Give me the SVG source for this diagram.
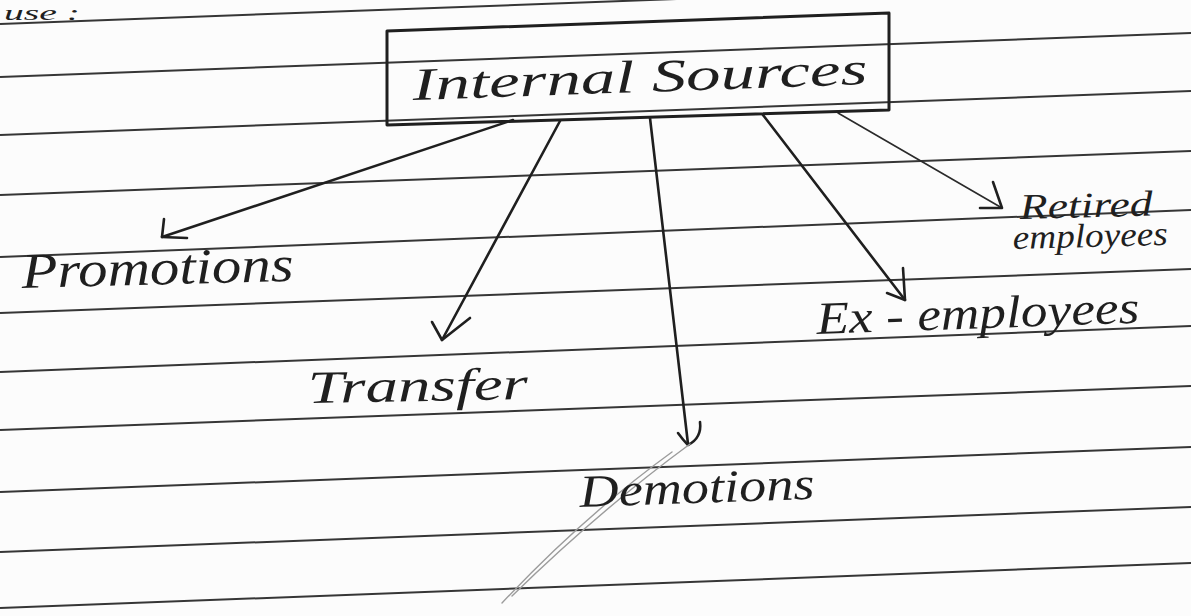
<svg xmlns="http://www.w3.org/2000/svg" width="1191" height="616" viewBox="0 0 1191 616">
  <style>
    .rule { stroke: #363636; stroke-width: 2; fill: none; }
    .ink { stroke: #1f1f1f; stroke-width: 2.6; fill: none; stroke-linecap: round; stroke-linejoin: round; }
    .thin { stroke: #2a2a2a; stroke-width: 1.6; fill: none; stroke-linecap: round; stroke-linejoin: round; }
    .pencil { stroke: #9c9c9c; stroke-width: 1.4; fill: none; stroke-linecap: round; }
    .hand { font-family: "Liberation Serif", "DejaVu Serif", serif; font-style: italic; fill: #1f1f1f; }
    .box { stroke: #1f1f1f; stroke-width: 3; fill: none; stroke-linejoin: round; }
  </style>
  <rect width="1191" height="616" fill="#fcfcfc"/>

  <g id="ruled-paper">
    <line class="rule" x1="0" y1="24" x2="1191" y2="-20"/>
    <line class="rule" x1="0" y1="77" x2="1191" y2="33"/>
    <line class="rule" x1="0" y1="135" x2="1191" y2="91"/>
    <line class="rule" x1="0" y1="195" x2="1191" y2="151"/>
    <line class="rule" x1="0" y1="257" x2="1191" y2="210"/>
    <line class="rule" x1="0" y1="313" x2="1191" y2="269"/>
    <line class="rule" x1="0" y1="372" x2="1191" y2="326"/>
    <line class="rule" x1="0" y1="430" x2="1191" y2="386"/>
    <line class="rule" x1="0" y1="492" x2="1191" y2="447"/>
    <line class="rule" x1="0" y1="552" x2="1191" y2="507"/>
    <line class="rule" x1="0" y1="608" x2="1191" y2="563"/>
  </g>

  <text class="hand" x="4" y="20" font-size="20" textLength="76" lengthAdjust="spacingAndGlyphs">use :</text>

  <g id="connectors">
    <g id="to-promotions">
      <path class="ink" d="M513,120 L162,237"/>
      <path class="ink" d="M164,219 L162,237 L187,238"/>
    </g>
    <g id="to-transfer">
      <path class="ink" d="M560,121 L442,340"/>
      <path class="ink" d="M432,322 L442,340 L470,318"/>
    </g>
    <g id="to-demotions">
      <path class="ink" d="M650,118 L688,444"/>
      <path class="ink" d="M678,433 Q683,440 688,445 Q702,438 700,422"/>
    </g>
    <g id="to-ex-employees">
      <path class="ink" d="M763,115 L905,300"/>
      <path class="ink" d="M903,268 L905,300 L887,293"/>
    </g>
    <g id="to-retired">
      <path class="thin" d="M838,113 L1002,208"/>
      <path class="ink" d="M993,182 L1002,208 L980,208"/>
    </g>
    <g id="pencil-stroke">
      <path class="pencil" d="M502,603 Q585,515 672,452"/>
      <path class="pencil" d="M512,596 Q600,510 690,444"/>
    </g>
  </g>

  <g id="internal-sources">
    <polygon class="box" points="387,31 889,13 889,110 387,125"/>
    <text class="hand" x="413" y="100" font-size="46" textLength="455" lengthAdjust="spacingAndGlyphs" transform="rotate(-2 413 100)">Internal Sources</text>
  </g>

  <g id="promotions">
    <text class="hand" x="22" y="288" font-size="50" textLength="272" lengthAdjust="spacingAndGlyphs" transform="rotate(-1.5 22 288)">Promotions</text>
  </g>

  <g id="transfer">
    <text class="hand" x="308" y="403" font-size="46" textLength="220" lengthAdjust="spacingAndGlyphs" transform="rotate(-1 308 403)">Transfer</text>
  </g>

  <g id="demotions">
    <text class="hand" x="580" y="507" font-size="46" textLength="235" lengthAdjust="spacingAndGlyphs" transform="rotate(-2 580 507)">Demotions</text>
  </g>

  <g id="ex-employees">
    <text class="hand" x="817" y="334" font-size="46" textLength="323" lengthAdjust="spacingAndGlyphs" transform="rotate(-2 817 334)">Ex - employees</text>
  </g>

  <g id="retired-employees">
    <text class="hand" x="1020" y="219" font-size="36" textLength="133" lengthAdjust="spacingAndGlyphs" transform="rotate(-1.5 1020 219)">Retired</text>
    <text class="hand" x="1013" y="249" font-size="34" textLength="155" lengthAdjust="spacingAndGlyphs" transform="rotate(-1.5 1013 249)">employees</text>
  </g>
</svg>
